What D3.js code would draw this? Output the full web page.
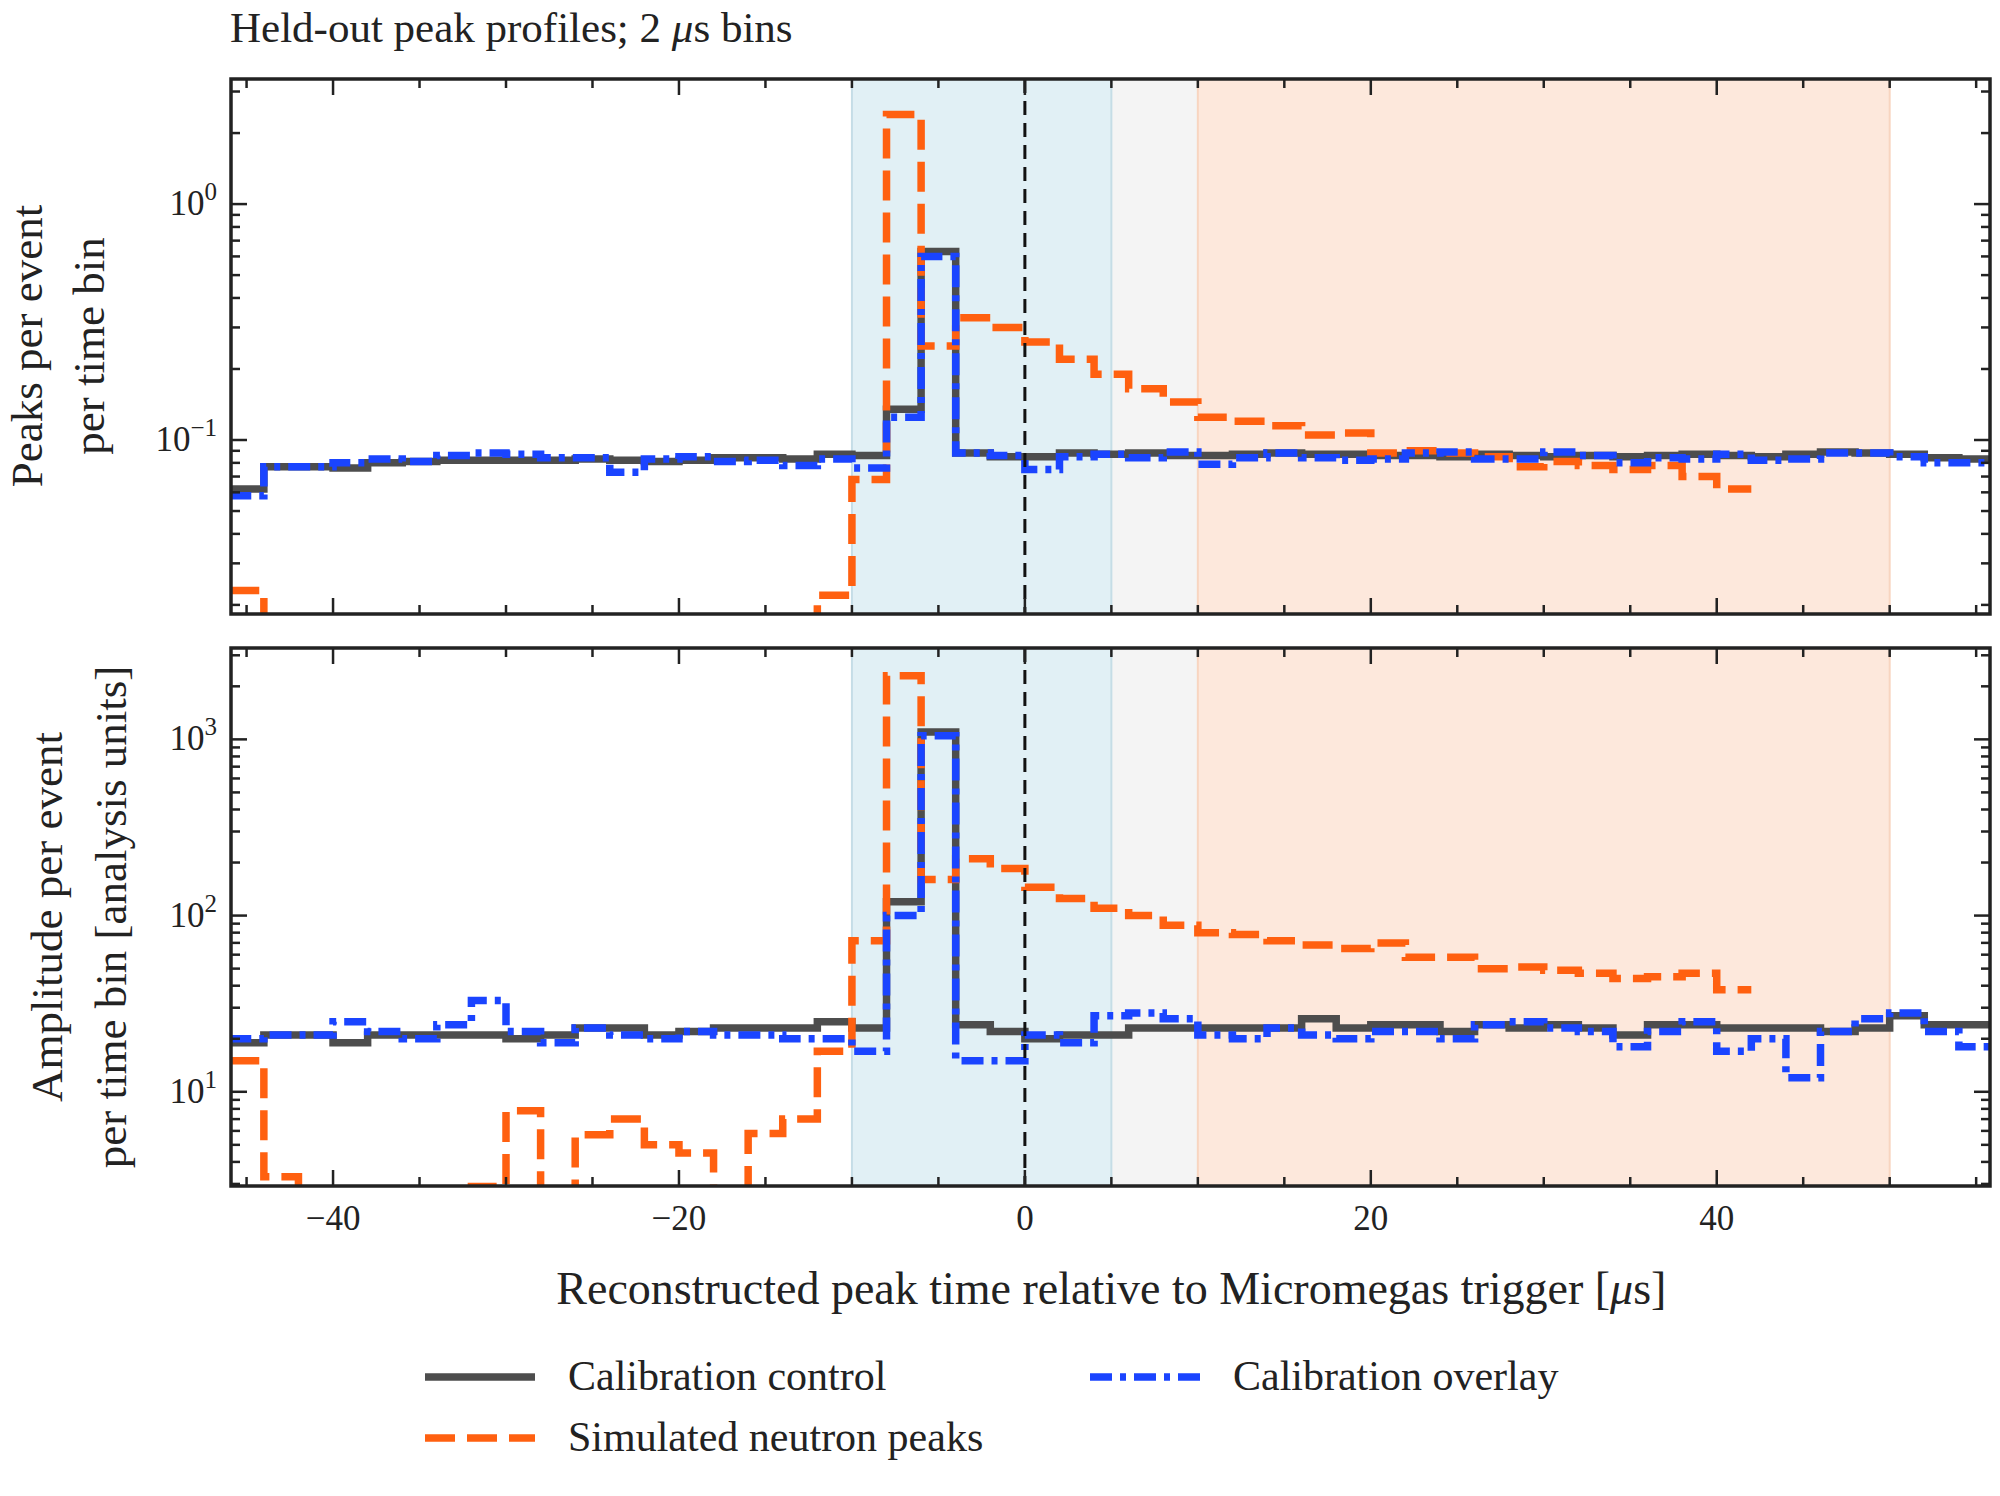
<!DOCTYPE html>
<html><head><meta charset="utf-8">
<script src="https://cdn.jsdelivr.net/npm/d3@7"></script>
<style>body{margin:0;background:#fff}text{font-family:"Liberation Serif","DejaVu Serif",serif;fill:#222}</style>
</head><body><svg id="c" width="2000" height="1496"></svg>
<script>
const binStart = -46, binWidth = 2;
const xTicks = [-40, -20, 0, 20, 40];
const topCtrl = [0.062,0.077,0.077,0.076,0.080,0.081,0.082,0.082,0.082,0.082,0.083,0.082,0.081,0.082,0.084,0.084,0.083,0.087,0.086,0.135,0.63,0.088,0.085,0.085,0.088,0.087,0.088,0.086,0.086,0.087,0.088,0.087,0.087,0.086,0.086,0.085,0.087,0.086,0.085,0.086,0.085,0.086,0.087,0.086,0.085,0.087,0.089,0.088,0.087,0.084,0.083];
const topOver = [0.058,0.077,0.077,0.080,0.083,0.081,0.086,0.088,0.087,0.084,0.084,0.073,0.083,0.085,0.081,0.082,0.078,0.083,0.076,0.125,0.60,0.088,0.086,0.075,0.085,0.087,0.084,0.089,0.079,0.084,0.088,0.084,0.082,0.083,0.088,0.089,0.083,0.083,0.089,0.086,0.080,0.084,0.083,0.087,0.082,0.083,0.088,0.088,0.085,0.080,0.080];
const topSim = [0.023,0.01,0.01,0.01,0.01,0.01,0.01,0.01,0.01,0.01,0.01,0.01,0.01,0.01,0.01,0.01,0.01,0.022,0.068,2.4,0.25,0.33,0.30,0.26,0.22,0.19,0.165,0.145,0.125,0.12,0.115,0.105,0.107,0.088,0.090,0.088,0.085,0.077,0.081,0.078,0.075,0.078,0.070,0.062];
const botCtrl = [19,21,21,19,21,21,21,21,20,21,23,23,21,22,23,23,23,25,23,120,1100,24,22,20,21,21,23,23,23,23,23,26,23,24,24,22,24,23,24,23,21,24,24,23,23,23,22,23,27,24,24];
const botOver = [20,21,21,25,22,20,24,33,22,19,23,21,20,22,21,21,20,20,17,100,1050,15,15,21,19,27,28,26,21,20,23,21,20,22,22,20,24,25,23,22,18,22,25,17,20,12,22,26,28,22,18];
const botSim = [15,3.3,2.5,2.0,2.0,2.0,2.0,2.9,7.8,2.0,5.7,7.0,5.0,4.5,2.0,5.8,7.0,17,72,2300,160,210,185,145,125,110,100,88,80,78,72,68,65,70,58,58,50,51,49,47,44,45,47,38];
const spans = [[-10,5,"#e1f0f5"],[5,10,"#f4f4f4"],[10,50,"#fde8dc"]];

const svg = d3.select("#c");
const L = 231, R = 1990;
const x = d3.scaleLinear().domain([-45.9, 55.8]).range([L, R]);
const panels = [
  {top:79, bot:614, dom:[0.0183,3.39], series:[topCtrl,topSim,topOver], decs:[-1,0]},
  {top:648, bot:1186, dom:[2.92,3300], series:[botCtrl,botSim,botOver], decs:[1,2,3]}
];
const styles = [
  {c:"#4d4d4d", d:null},
  {c:"#ff6010", d:"30,12"},
  {c:"#1a44ff", d:"22,8,6,8"}
];
panels.forEach((p,pi)=>{
  const y = d3.scaleLog().domain(p.dom).range([p.bot, p.top]);
  const g = svg.append("g");
  const cid = "clip"+pi;
  svg.append("clipPath").attr("id",cid).append("rect").attr("x",L).attr("y",p.top).attr("width",R-L).attr("height",p.bot-p.top);
  spans.forEach(s=>g.append("rect").attr("x",x(s[0])).attr("y",p.top).attr("width",x(s[1])-x(s[0])).attr("height",p.bot-p.top).attr("fill",s[2]));
  [-10,5,10,50].forEach(v=>g.append("line").attr("x1",x(v)).attr("x2",x(v)).attr("y1",p.top).attr("y2",p.bot).attr("stroke",v==50||v==10?"#f8d5c0":"#c5dde6").attr("stroke-width",2));
  const line = d3.line().x(d=>x(d[0])).y(d=>y(d[1])).curve(d3.curveStepAfter);
  p.series.forEach((s,si)=>{
    const pts = s.map((v,i)=>[binStart+i*binWidth, v]);
    pts.push([binStart+s.length*binWidth, s[s.length-1]]);
    g.append("path").attr("d",line(pts)).attr("fill","none").attr("stroke",styles[si].c).attr("stroke-width",7.5)
      .attr("stroke-dasharray",styles[si].d).attr("clip-path",`url(#${cid})`);
  });
  g.append("line").attr("x1",x(0)).attr("x2",x(0)).attr("y1",p.top).attr("y2",p.bot).attr("stroke","#111").attr("stroke-width",3).attr("stroke-dasharray","14,8");
  const tk = (x1,y1,x2,y2,w)=>g.append("line").attr("x1",x1).attr("y1",y1).attr("x2",x2).attr("y2",y2).attr("stroke","#222").attr("stroke-width",w);
  for(let v=-45; v<=55; v+=5){
    const maj = xTicks.includes(v), len = maj?16:9, X=x(v);
    tk(X,p.bot,X,p.bot-len,2.5); tk(X,p.top,X,p.top+len,2.5);
  }
  const lo = Math.floor(Math.log10(p.dom[0])), hi = Math.ceil(Math.log10(p.dom[1]));
  for(let e=lo;e<=hi;e++) for(let m=1;m<10;m++){
    const v = m*Math.pow(10,e); if(v<p.dom[0]||v>p.dom[1]) continue;
    const Y=y(v), len = m==1?16:9;
    tk(L,Y,L+len,Y,2.5); tk(R,Y,R-len,Y,2.5);
  }
  p.decs.forEach(e=>{
    const t = g.append("text").attr("x",L-14).attr("y",y(Math.pow(10,e))+11).attr("text-anchor","end").attr("font-size",35);
    t.append("tspan").text("10");
    t.append("tspan").attr("dy",-15).attr("font-size",25).text(e<0?"\u2212"+(-e):e);
  });
  g.append("rect").attr("x",L).attr("y",p.top).attr("width",R-L).attr("height",p.bot-p.top).attr("fill","none").attr("stroke","#222").attr("stroke-width",3.5);
  if(pi==1) xTicks.forEach(v=>g.append("text").attr("x",x(v)).attr("y",p.bot+44).attr("text-anchor","middle").attr("font-size",35).text(v<0?"\u2212"+(-v):v));
});
const T = svg.append("text").attr("x",230).attr("y",42).attr("font-size",43);
T.append("tspan").text("Held-out peak profiles; 2 ");
T.append("tspan").attr("font-style","italic").text("\u03bc");
T.append("tspan").text("s bins");
function ylab(cx, cy, lines){
  lines.forEach((s,i)=>svg.append("text").attr("transform",`translate(${cx[i]},${cy}) rotate(-90)`).attr("text-anchor","middle").attr("font-size",45).text(s));
}
ylab([42,104],346,["Peaks per event","per time bin"]);
ylab([62,126],917,["Amplitude per event","per time bin [analysis units]"]);
const XL = svg.append("text").attr("x",x(5)).attr("y",1304).attr("text-anchor","middle").attr("font-size",46);
XL.append("tspan").text("Reconstructed peak time relative to Micromegas trigger [");
XL.append("tspan").attr("font-style","italic").text("\u03bc");
XL.append("tspan").text("s]");
const leg = [[425,1377,0,"Calibration control"],[1090,1377,2,"Calibration overlay"],[425,1438,1,"Simulated neutron peaks"]];
leg.forEach(l=>{
  svg.append("line").attr("x1",l[0]).attr("x2",l[0]+110).attr("y1",l[1]).attr("y2",l[1]).attr("stroke",styles[l[2]].c).attr("stroke-width",7.5).attr("stroke-dasharray",styles[l[2]].d);
  svg.append("text").attr("x",l[0]+143).attr("y",l[1]+13).attr("font-size",42).text(l[3]);
});
</script></body></html>
